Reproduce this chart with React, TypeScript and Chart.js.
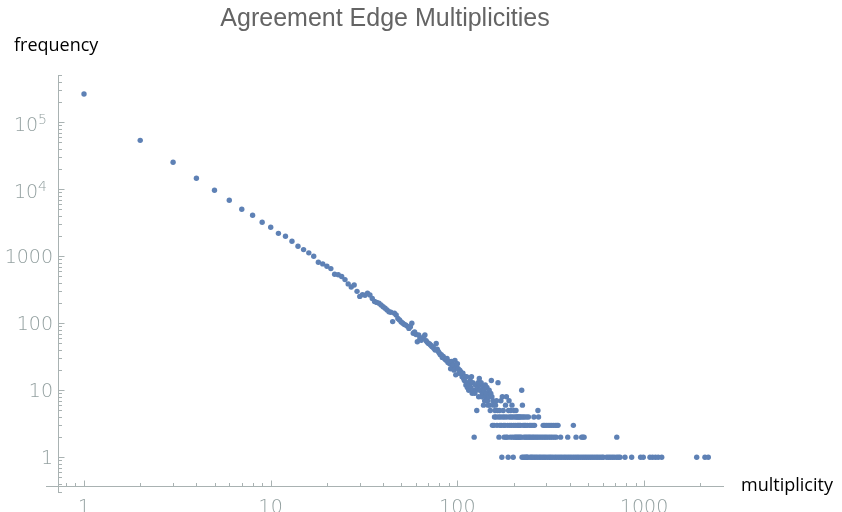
import React, { useEffect, useRef } from "react";
import { Chart, registerables } from "chart.js";

Chart.register(...registerables);

// Frequency for multiplicities 1, 2, 3, ... 122 (one value per multiplicity)
const mainFrequencies = [
  265000, 53800, 25300, 14600, 9660, 6850, 5030, 4090, 3220, 2710,
  2200, 1990, 1680, 1410, 1260, 1125, 1000, 813, 770, 710,
  655, 540, 530, 500, 449, 387, 349, 373, 300, 252,
  268, 262, 282, 264, 235, 212, 205, 199, 188, 177,
  168, 158, 149, 146, 106, 141, 133, 118, 112, 105,
  100, 96, 94, 90, 84, 89, 100, 71, 74, 68,
  53, 67, 60, 56, 60, 63, 67, 55, 52, 50,
  49, 47, 45, 44, 42, 40, 50, 41, 38, 36,
  34, 34, 31, 32, 30, 29, 28, 30, 26, 27,
  25, 21, 27, 22, 24, 20, 28, 17, 22, 25,
  21, 18, 20, 19, 18, 16, 18, 15, 14, 16,
  12, 16, 11, 13, 10, 12, 14, 11, 16, 9,
  13, 10,
];

// Scattered region: multiplicities 123 .. 240
const tailMultiplicities = [
  123, 124, 125, 126, 127, 128, 129, 130, 131, 132, 133, 134, 135, 136, 137, 138, 139, 140,
  141, 142, 143, 144, 145, 146, 147, 148, 149, 150, 151, 152, 153, 154, 155, 156, 157, 158,
  159, 160, 161, 162, 163, 164, 165, 166, 167, 168, 169, 170, 171, 172, 173, 174, 175, 176,
  177, 178, 179, 180, 181, 182, 183, 184, 185, 186, 187, 188, 189, 190, 191, 192, 193, 194,
  195, 196, 197, 198, 199, 200, 201, 202, 203, 204, 205, 206, 207, 208, 209, 210, 211, 212,
  213, 214, 215, 216, 217, 218, 219, 220, 221, 222, 223, 224, 225, 226, 227, 228, 229, 230,
  231, 232, 233, 234, 235, 236, 237, 238, 239, 240,
];
const tailFrequencies = [
  2, 9, 12, 10, 5, 11, 13, 8, 15, 10, 12, 13, 8, 9, 11, 6, 10, 7,
  12, 8, 9, 11, 7, 6, 8, 10, 6, 5, 9, 14, 8, 3, 7, 6, 3, 4,
  5, 6, 4, 7, 3, 5, 13, 4, 2, 5, 3, 4, 7, 3, 1, 8, 4, 5,
  3, 2, 4, 3, 6, 2, 8, 4, 2, 3, 1, 5, 7, 4, 3, 2, 5, 4,
  3, 6, 2, 4, 1, 3, 5, 2, 4, 3, 2, 5, 4, 2, 3, 4, 2, 3,
  4, 2, 3, 4, 2, 3, 4, 2, 10, 1, 6, 4, 3, 1, 2, 4, 3, 1,
  2, 3, 1, 4, 2, 1, 3, 1, 2, 4,
];

// Multiplicities above 240, grouped by their frequency
const freqOneMultiplicities = [
  245, 249, 253, 258, 263, 268, 274, 279, 285, 291, 297, 304, 311, 317, 324, 332, 339, 347,
  355, 363, 372, 380, 389, 398, 407, 417, 427, 437, 447, 458, 469, 480, 491, 503, 515, 527,
  540, 553, 566, 580, 594, 605, 630, 645, 660, 676, 692, 712, 728, 743, 790, 858, 958, 990,
  1075, 1110, 1150, 1190, 1243, 1913, 2118, 2207,
];
const freqTwoMultiplicities = [
  243, 247, 252, 256, 261, 266, 271, 277, 283, 289, 295, 301, 308, 315, 322, 330, 338, 357,
  390, 432, 463, 470, 477, 714,
];
const freqThreeMultiplicities = [244, 248, 254, 259, 288, 293, 299, 306, 313, 320, 327, 334, 341, 346, 418];
const freqFourMultiplicities = [257, 272];
const freqFiveMultiplicities = [270];

// Axis ticks
const xMajorTicks = [1, 10, 100, 1000];
const xTickLabels = ["1", "10", "100", "1000"];
const yMajorTicks = [1, 10, 100, 1000, 10000, 100000];
const yTickBases = ["1", "10", "100", "1000", "10", "10"];
const yTickExponents = ["", "", "", "", "4", "5"];
const tickDecades = [0.1, 1, 10, 100, 1000, 10000, 100000];
const minorMultipliers = [2, 3, 4, 5, 6, 7, 8, 9];

const TITLE = "Agreement Edge Multiplicities";
const X_LABEL = "multiplicity";
const Y_LABEL = "frequency";

const POINT_COLOR = "#5e81b5";
const AXIS_COLOR = "#a9b2b2";
const TICK_LABEL_COLOR = "#93a0a0";
const TICK_FONT = '200 19px "DejaVu Sans"';
const SUP_FONT = '200 14px "DejaVu Sans"';

// where the axes cross (data units)
const X_AXIS_AT_FREQ = 0.373;
const Y_AXIS_AT_MULT = 0.726;

function buildPoints() {
  const pts: { x: number; y: number }[] = [];
  mainFrequencies.forEach((f, i) => pts.push({ x: i + 1, y: f }));
  tailMultiplicities.forEach((m, i) => pts.push({ x: m, y: tailFrequencies[i] }));
  freqOneMultiplicities.forEach((m) => pts.push({ x: m, y: 1 }));
  freqTwoMultiplicities.forEach((m) => pts.push({ x: m, y: 2 }));
  freqThreeMultiplicities.forEach((m) => pts.push({ x: m, y: 3 }));
  freqFourMultiplicities.forEach((m) => pts.push({ x: m, y: 4 }));
  freqFiveMultiplicities.forEach((m) => pts.push({ x: m, y: 5 }));
  return pts;
}

const axesPlugin = {
  id: "mmaAxes",
  beforeDatasetsDraw(chart: any) {
    const { ctx, chartArea: ca } = chart;
    const xs = chart.scales.x;
    const ys = chart.scales.y;
    const axisY = Math.round(ys.getPixelForValue(X_AXIS_AT_FREQ)) + 0.5;
    const axisX = Math.round(xs.getPixelForValue(Y_AXIS_AT_MULT)) + 0.5;
    ctx.save();
    ctx.strokeStyle = AXIS_COLOR;
    ctx.lineWidth = 1;
    ctx.beginPath();
    ctx.moveTo(ca.left, axisY);
    ctx.lineTo(ca.right, axisY);
    ctx.moveTo(axisX, ca.top);
    ctx.lineTo(axisX, ca.bottom);
    ctx.stroke();

    ctx.beginPath();
    tickDecades.forEach((d) => {
      [1, ...minorMultipliers].forEach((m) => {
        const v = m * d;
        const len = m === 1 ? 6 : 3.5;
        const px = xs.getPixelForValue(v);
        if (v > Y_AXIS_AT_MULT && px <= ca.right) {
          const xx = Math.round(px) + 0.5;
          ctx.moveTo(xx, axisY);
          ctx.lineTo(xx, axisY - len);
        }
        const py = ys.getPixelForValue(v);
        if (py >= ca.top && py <= ca.bottom) {
          const yy = Math.round(py) + 0.5;
          ctx.moveTo(axisX, yy);
          ctx.lineTo(axisX + len, yy);
        }
      });
    });
    ctx.stroke();
    ctx.restore();
  },
  afterDraw(chart: any) {
    const { ctx } = chart;
    const xs = chart.scales.x;
    const ys = chart.scales.y;
    const axisY = ys.getPixelForValue(X_AXIS_AT_FREQ);
    ctx.save();
    // x tick labels
    ctx.fillStyle = TICK_LABEL_COLOR;
    ctx.font = TICK_FONT;
    ctx.textAlign = "center";
    ctx.textBaseline = "alphabetic";
    xMajorTicks.forEach((v, i) => {
      ctx.fillText(xTickLabels[i], xs.getPixelForValue(v), axisY + 27);
    });
    // y tick labels
    yMajorTicks.forEach((v, i) => {
      const py = ys.getPixelForValue(v);
      const exp = yTickExponents[i];
      if (!exp) {
        ctx.font = TICK_FONT;
        ctx.textAlign = "right";
        ctx.fillText(yTickBases[i], 53, py + 6.8);
      } else {
        ctx.font = SUP_FONT;
        ctx.textAlign = "right";
        ctx.fillText(exp, 47, py + 1.5);
        const ew = ctx.measureText(exp).width;
        ctx.font = TICK_FONT;
        ctx.fillText(yTickBases[i], 47 - ew, py + 9);
      }
    });
    // axis labels
    ctx.fillStyle = "#000000";
    ctx.font = '18px "Open Sans"';
    ctx.textAlign = "left";
    ctx.fillText(Y_LABEL, 14, 51);
    ctx.fillText(X_LABEL, 741, 491);
    // title
    ctx.fillStyle = "#646464";
    ctx.font = '25px "Liberation Sans"';
    ctx.textAlign = "center";
    ctx.fillText(TITLE, 385, 26);
    ctx.restore();
  },
};

export default function App() {
  const canvasRef = useRef<HTMLCanvasElement | null>(null);

  useEffect(() => {
    document.body.style.margin = "0";
    const canvas = canvasRef.current;
    if (!canvas) return;
    const chart = new Chart(canvas, {
      type: "scatter",
      data: {
        datasets: [
          {
            label: "frequency",
            data: buildPoints(),
            backgroundColor: POINT_COLOR,
            borderWidth: 0,
            pointRadius: 2.7,
            pointHoverRadius: 2.7,
          },
        ],
      },
      options: {
        responsive: false,
        animation: false,
        devicePixelRatio: 1,
        layout: { autoPadding: false, padding: { left: 46, right: 118, top: 75, bottom: 19 } },
        plugins: {
          legend: { display: false },
          title: { display: false },
          tooltip: { enabled: false },
        },
        scales: {
          x: { type: "logarithmic", display: false, bounds: "data", min: 0.6258, max: 2679 },
          y: { type: "logarithmic", display: false, bounds: "data", min: 0.2933, max: 508000 },
        },
      },
      plugins: [axesPlugin],
    });
    return () => chart.destroy();
  }, []);

  return (
    <div style={{ width: 842, height: 512, background: "#ffffff" }}>
      <canvas ref={canvasRef} width={842} height={512} />
    </div>
  );
}
